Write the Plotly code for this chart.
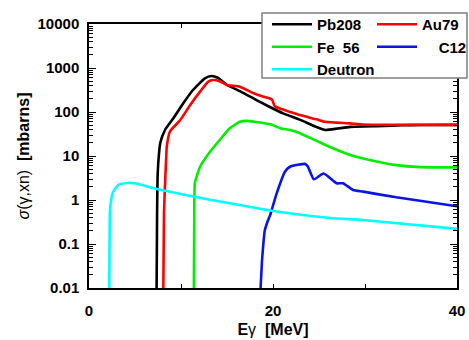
import plotly.graph_objects as go

# ---- data (E in MeV, sigma in mbarns) ----
pb_e = [7.35, 7.4, 7.45, 7.55, 7.75, 8.26, 9.17, 10.25, 11.3, 12.6, 13.3, 14.0, 15.0, 16.5, 18.2, 19.5, 21.1, 22.9, 24.7, 25.7, 27.0, 28.4, 32.0, 34.0, 36.0, 40.0]
pb_s = [0.01, 0.5, 3.0, 8.0, 20.0, 39.0, 72.0, 158.0, 316.0, 583.0, 659.0, 600.0, 411.0, 290.0, 187.0, 135.0, 93.0, 67.0, 46.0, 39.0, 42.0, 46.0, 48.0, 50.0, 50.5, 51.0]

au_e = [8.08, 8.15, 8.3, 8.4, 8.45, 8.8, 9.9, 11.0, 12.07, 12.97, 13.5, 14.2, 15.0, 16.4, 17.9, 18.9, 19.6, 19.9, 20.2, 21.0, 21.8, 22.9, 24.75, 25.65, 28.4, 29.8, 33.8, 40.0]
au_s = [0.01, 0.5, 3.4, 10.0, 16.0, 36.0, 65.0, 144.0, 290.0, 490.0, 533.0, 500.0, 411.0, 377.0, 266.0, 225.0, 205.0, 190.0, 135.0, 115.0, 101.0, 85.0, 68.0, 60.0, 55.0, 52.0, 51.0, 51.0]

fe_e = [11.4, 11.45, 11.5, 11.7, 12.07, 13.15, 14.2, 15.3, 16.4, 17.1, 18.0, 18.9, 19.8, 20.8, 21.85, 22.6, 24.75, 26.2, 28.4, 29.8, 33.4, 36.0, 40.0]
fe_s = [0.01, 1.0, 2.4, 3.4, 5.7, 12.5, 23.0, 42.6, 60.0, 63.0, 60.0, 56.0, 52.0, 42.6, 39.0, 35.0, 22.0, 16.0, 10.5, 8.8, 6.2, 5.6, 5.5]

c_e = [18.65, 18.8, 18.95, 19.1, 19.4, 19.7, 20.0, 20.4, 21.3, 21.85, 22.7, 23.5, 23.8, 24.45, 25.5, 26.9, 27.6, 28.7, 29.8, 33.4, 40.0]
c_s = [0.01, 0.04, 0.1, 0.2, 0.32, 0.46, 0.75, 1.42, 4.4, 5.7, 6.3, 6.6, 5.7, 2.95, 4.0, 2.4, 2.4, 1.69, 1.55, 1.15, 0.72]

d_e = [2.2, 2.25, 2.3, 2.6, 3.2, 4.1, 5.0, 7.4, 11.6, 15.3, 19.8, 26.2, 29.8, 40.0]
d_s = [0.01, 0.3, 0.66, 1.5, 2.2, 2.44, 2.4, 1.78, 1.17, 0.84, 0.57, 0.39, 0.35, 0.22]

x_ticks = [0, 10, 20, 30, 40]
x_ticktext = ["0", "", "20", "", "40"]
y_ticks = [0.01, 0.1, 1, 10, 100, 1000, 10000]
y_ticktext = ["0.01", "0.1", "1", "10", "100", "1000", "10000"]

FONT = "Liberation Sans, Arial, sans-serif"
LW = 2.6
W, H = 469, 340

fig = go.Figure()
series = [
    ("Pb208", pb_e, pb_s, "#000000", "legend"),
    ("Au79", au_e, au_s, "#FF0000", "legend2"),
    ("Fe\u00a0\u00a056", fe_e, fe_s, "#00EE00", "legend"),
    ("\u00a0\u00a0\u00a0\u00a0C12", c_e, c_s, "#0A14E6", "legend2"),
    ("Deutron", d_e, d_s, "#00FFFF", "legend"),
]
for name, xs, ys, col, lg in series:
    fig.add_trace(go.Scatter(x=xs, y=ys, mode="lines", name="<b>" + name + "</b>",
                             line=dict(color=col, width=LW, shape="spline", smoothing=0.5),
                             legend=lg))

tickfont = dict(family=FONT, size=15, color="#000000")
axis_common = dict(showline=True, linecolor="#000000", linewidth=1.5, mirror="ticks",
                   ticks="inside", tickcolor="#000000", showgrid=False, zeroline=False,
                   tickfont=tickfont, automargin=False)

fig.update_xaxes(range=[0, 40], tickvals=x_ticks,
                 ticktext=["<b>" + t + "</b>" if t else "" for t in x_ticktext],
                 ticklen=4, ticklabelstandoff=8,
                 title=dict(text="<b>E</b>γ  <b>[MeV]</b>", standoff=6,
                            font=dict(family=FONT, size=16, color="#000000")),
                 **axis_common)
fig.update_yaxes(type="log", range=[-2, 4], tickvals=y_ticks,
                 ticktext=["<b>" + t + "</b>" for t in y_ticktext],
                 ticklen=7, ticklabelstandoff=5,
                 minor=dict(dtick="D1", ticklen=4, ticks="inside", tickcolor="#000000"),
                 title=dict(text="<i>σ</i>(γ,xn)  <b>[mbarns]</b>", standoff=4,
                            font=dict(family=FONT, size=16, color="#000000")),
                 **axis_common)

lfont = dict(family=FONT, size=15, color="#000000")
ly = 1 - 8 / H
fig.update_layout(
    width=W, height=H,
    margin=dict(l=89, r=12, t=24, b=52, autoexpand=False),
    plot_bgcolor="white", paper_bgcolor="white",
    showlegend=True,
    legend=dict(xref="container", yref="container", x=267 / W, y=ly,
                xanchor="left", yanchor="top",
                bgcolor="rgba(0,0,0,0)", borderwidth=0, font=lfont, itemwidth=40,
                tracegroupgap=0),
    legend2=dict(xref="container", yref="container", x=372 / W, y=ly,
                 xanchor="left", yanchor="top",
                 bgcolor="rgba(0,0,0,0)", borderwidth=0, font=lfont, itemwidth=40,
                 tracegroupgap=0),
    shapes=[dict(type="rect", xref="paper", yref="paper",
                 x0=(262 - 89) / 368, x1=(467 - 89) / 368,
                 y0=(288 - 78) / 264, y1=(288 - 13) / 264,
                 fillcolor="white", line=dict(color="#808080", width=1.5), layer="above")],
)

fig.write_html("out.html")
